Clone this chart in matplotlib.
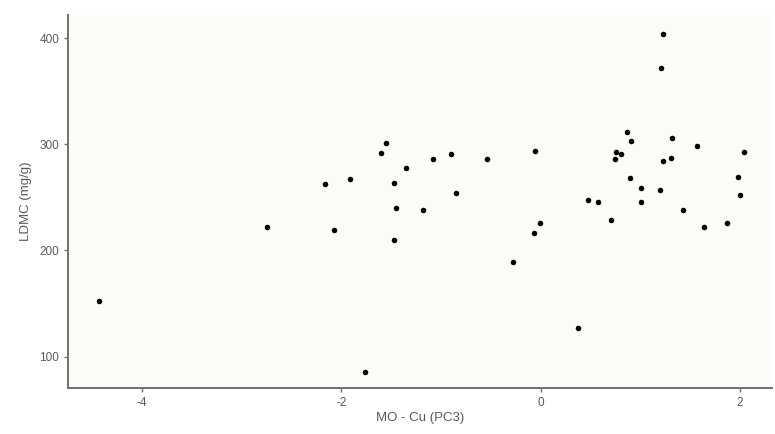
import matplotlib.pyplot as plt

plt.rcParams['font.family'] = ['Liberation Sans', 'DejaVu Sans']

# PC3 scores (MO - Cu) vs leaf dry matter content
pc3 = [-4.43, -2.75, -2.16, -2.07, -1.91, -1.76, -1.60, -1.55, -1.47, -1.45,
       -1.47, -1.35, -1.18, -1.08, -0.90, -0.85, -0.54, -0.28,
       -0.06, -0.01, -0.07, 0.37, 0.48, 0.58, 0.71, 0.75, 0.76, 0.81,
       0.87, 0.91, 0.90, 1.01, 1.01, 1.20, 1.21, 1.23, 1.23, 1.31,
       1.32, 1.43, 1.57, 1.64, 1.87, 1.98, 2.00, 2.04]
ldmc = [152, 222, 263, 219, 267, 86, 292, 301, 264, 240,
        210, 278, 238, 286, 291, 254, 286, 189,
        294, 226, 216, 127, 248, 246, 229, 286, 293, 291,
        312, 303, 268, 259, 246, 257, 372, 404, 284, 287,
        306, 238, 298, 222, 226, 269, 252, 293]

x_ticks = [-4, -2, 0, 2]
y_ticks = [100, 200, 300, 400]

bg = '#fdfbf8'
grey = '#5a5a5a'

fig = plt.figure(figsize=(7.75, 4.34), dpi=100, facecolor='white')
ax = fig.add_axes([0.088, 0.106, 0.908, 0.86])
ax.set_facecolor(bg)

ax.scatter(pc3, ldmc, s=16, color='black', zorder=3, linewidths=0)

ax.set_xlim(-4.74, 2.32)
ax.set_ylim(70.5, 422)
ax.set_xticks(x_ticks)
ax.set_yticks(y_ticks)
ax.set_xticklabels([str(t) for t in x_ticks])

for side in ['top', 'right']:
    ax.spines[side].set_visible(False)
for side in ['left', 'bottom']:
    ax.spines[side].set_color('#707070')
    ax.spines[side].set_linewidth(1.4)

ax.tick_params(colors='#707070', labelcolor=grey, labelsize=8.5, length=3, width=1)
ax.set_xlabel('MO - Cu (PC3)', color=grey, fontsize=9.5, labelpad=2)
ax.set_ylabel('LDMC (mg/g)', color=grey, fontsize=9.5, labelpad=5)

fig.savefig('out.png', dpi=100, facecolor=fig.get_facecolor())
